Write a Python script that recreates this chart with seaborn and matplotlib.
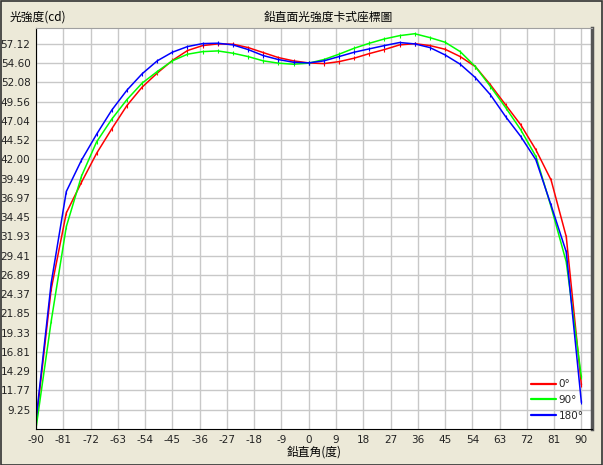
import matplotlib
matplotlib.use('Agg')
import matplotlib.pyplot as plt
import pandas as pd
import seaborn as sns
from matplotlib.patches import Rectangle
from matplotlib.ticker import MultipleLocator

# angles measured every 5 degrees
angles = list(range(-90, 91, 5))

red_0 = [7.5, 25.0, 35.0, 39.0, 42.8, 46.0, 49.05, 51.45, 53.3, 54.95, 56.25, 56.9,
         57.12, 57.08, 56.64, 55.98, 55.33, 54.9, 54.63, 54.54, 54.8, 55.25, 55.85,
         56.38, 56.99, 57.15, 56.9, 56.42, 55.46, 54.15, 51.76, 49.14, 46.52, 43.25,
         39.3, 31.9, 12.5]
green_90 = [6.8, 20.8, 33.2, 39.8, 44.3, 47.27, 49.83, 51.98, 53.5, 54.9, 55.77, 56.11,
            56.2, 55.9, 55.46, 54.9, 54.6, 54.46, 54.6, 55.07, 55.77, 56.55, 57.2,
            57.77, 58.2, 58.45, 57.94, 57.34, 56.11, 54.15, 51.54, 48.79, 45.87, 42.38,
            35.8, 28.6, 13.5]
blue_180 = [7.9, 25.8, 37.8, 41.9, 45.3, 48.45, 51.06, 53.2, 54.9, 56.03, 56.77, 57.16,
            57.21, 56.99, 56.38, 55.59, 55.07, 54.72, 54.63, 54.9, 55.46, 56.03, 56.47,
            56.9, 57.3, 57.12, 56.64, 55.68, 54.46, 52.71, 50.45, 47.6, 45.0, 41.94,
            36.0, 29.9, 10.2]

series_names = ['0°', '90°', '180°']
series_colors = ['#ff0000', '#00ff00', '#0000ff']

y_ticks = [9.25, 11.77, 14.29, 16.81, 19.33, 21.85, 24.37, 26.89, 29.41, 31.93,
           34.45, 36.97, 39.49, 42.00, 44.52, 47.04, 49.56, 52.08, 54.60, 57.12]
x_ticks = list(range(-90, 91, 9))

# long table for seaborn
df = pd.DataFrame({
    'angle': angles * 3,
    'cd': red_0 + green_90 + blue_180,
    'plane': [series_names[0]] * len(angles) + [series_names[1]] * len(angles)
             + [series_names[2]] * len(angles),
})

sns.set_style('white')
plt.rcParams['font.family'] = ['Noto Sans CJK TC', 'DejaVu Sans']

fig = plt.figure(figsize=(6.03, 4.65), dpi=100, facecolor='#ece9d8')
ax = fig.add_axes([36 / 603, 36 / 465, 556 / 603, 401 / 465])
ax.set_facecolor('white')

sns.lineplot(data=df, x='angle', y='cd', hue='plane', hue_order=series_names,
             palette=series_colors, linewidth=1.1, ax=ax)

# small tick marks at each measured point, same colour as the line
for line in ax.lines:
    line.set_marker('|')
    line.set_markersize(3)
    line.set_markeredgewidth(0.8)
    line.set_markeredgecolor(line.get_color())

ax.set_xlim(-90, 93.5)
ax.set_ylim(6.73, 59.2)
ax.set_xticks(x_ticks)
ax.set_xticklabels([str(v) for v in x_ticks])
ax.set_yticks(y_ticks)
ax.set_yticklabels([f'{v:.2f}' for v in y_ticks])
ax.xaxis.set_minor_locator(MultipleLocator(1.8))
ax.yaxis.set_minor_locator(MultipleLocator(1.26))
ax.grid(True, which='major', color='#c8c8c8', linewidth=1.0)
ax.set_axisbelow(True)
ax.tick_params(axis='both', which='both', direction='in', length=3, width=0.8,
               labelsize=7.5, colors='black', pad=4,
               labelfontfamily='DejaVu Sans')
ax.tick_params(axis='both', which='major', length=4)
for lab in ax.get_xticklabels() + ax.get_yticklabels():
    lab.set_color('#222222')

ax.spines['left'].set_color('black')
ax.spines['bottom'].set_color('black')
ax.spines['top'].set_color('#a0a0a0')
ax.spines['right'].set_color('#555555')
ax.spines['right'].set_linewidth(2.5)

ax.set_xlabel('')
ax.set_ylabel('')

leg = ax.legend(loc='lower right', frameon=False, handlelength=2.4,
                handletextpad=0.3, labelspacing=0.55, borderaxespad=0.4,
                prop={'family': 'DejaVu Sans', 'size': 7.5})
for line in leg.get_lines():
    line.set_marker('')
    line.set_linewidth(1.6)

fig.text(328 / 603, 1 - 17 / 465, '鉛直面光強度卡式座標圖', ha='center', va='center',
         fontsize=8.5, color='black')
fig.text(10 / 603, 1 - 17 / 465, '光強度(cd)', ha='left', va='center',
         fontsize=8.5, color='black')
fig.text(314 / 603, 1 - 452 / 465, '鉛直角(度)', ha='center', va='center',
         fontsize=8.5, color='black')

fig.patches.append(Rectangle((0.001, 0.001), 0.997, 0.997, transform=fig.transFigure,
                             fill=False, edgecolor='#333333', linewidth=1.2))

fig.savefig('out.png', dpi=100, facecolor=fig.get_facecolor())
